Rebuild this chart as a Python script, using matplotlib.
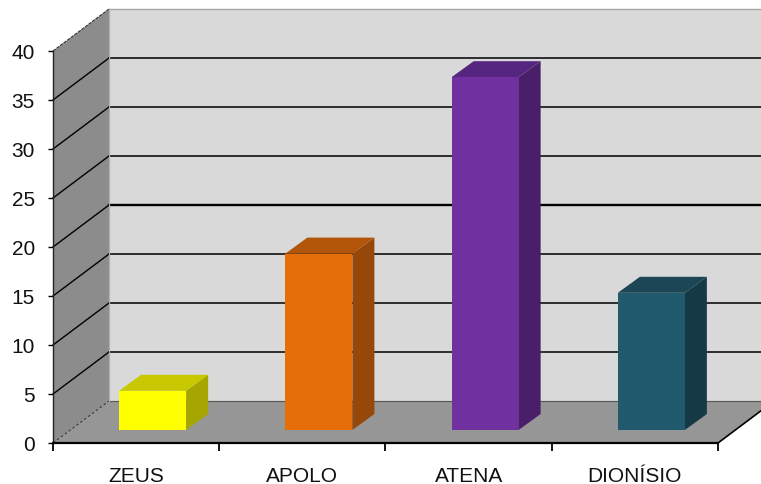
import matplotlib
matplotlib.use("Agg")
from matplotlib import pyplot as plt
from matplotlib.patches import Polygon

categories = ["ZEUS", "APOLO", "ATENA", "DIONÍSIO"]
values = [4, 18, 36, 14]
y_ticks = [0, 5, 10, 15, 20, 25, 30, 35, 40]

front_colors = ["#ffff00", "#e66e0a", "#7030a0", "#215a6c"]
top_colors = ["#c8c800", "#b25508", "#562580", "#1c4655"]
side_colors = ["#a6a600", "#96480a", "#4a1f6a", "#153a46"]

plt.rcParams["font.family"] = ["Liberation Sans", "DejaVu Sans"]

W, H = 761, 485
fig = plt.figure(figsize=(W / 100, H / 100), dpi=100)
ax = fig.add_axes([53 / W, (H - 444) / H, 665 / W, 392 / H])
ax.set_xlim(0, 4)
ax.set_ylim(0, 40)
ax.patch.set_alpha(0)

# depth of the fake 3d box, in data units
dx = 56 / 166.25
dy = 42 / 9.8
# bar placement inside the box
bar_w = 0.403
bar_dx = 16.5 / 166.25
bar_dy = 13 / 9.8
side_dx = 22 / 166.25
side_dy = 16 / 9.8


def poly(pts, color, z):
    ax.add_patch(Polygon(pts, closed=True, facecolor=color, edgecolor="none",
                         clip_on=False, zorder=z))


right = 4 + dx + 0.1
poly([(dx, dy), (right, dy), (right, 40 + dy), (dx, 40 + dy)], "#d9d9d9", 1)
poly([(0, 0), (dx, dy), (dx, 40 + dy), (0, 40)], "#8c8c8c", 1)
poly([(0, 0), (4, 0), (4 + dx, dy), (dx, dy)], "#969696", 1)

for v in y_ticks:
    lw = 1.7 if v == 20 else 1.1
    if v == 0:
        ax.plot([0, dx], [0, dy], color="#333333", lw=0.7, ls=(0, (3, 2)),
                clip_on=False, zorder=2)
        ax.plot([dx, right], [dy, dy], color="#555555", lw=0.8,
                clip_on=False, zorder=2)
    elif v == 40:
        ax.plot([0, dx], [v, v + dy], color="#333333", lw=0.8, ls=(0, (3, 1)),
                clip_on=False, zorder=2)
        ax.plot([dx, right], [v + dy, v + dy], color="#a6a6a6", lw=1,
                clip_on=False, zorder=2)
    else:
        ax.plot([0, dx], [v, v + dy], color="black", lw=1, clip_on=False, zorder=2)
        ax.plot([dx, right], [v + dy, v + dy], color="black", lw=lw,
                clip_on=False, zorder=2)
ax.plot([dx, dx], [dy, 40 + dy], color="#b0b0b0", lw=0.9, clip_on=False, zorder=2)
ax.plot([4, 4 + dx], [0, dy], color="black", lw=1.2, clip_on=False, zorder=2)

for i, v in enumerate(values):
    x0 = i + bar_dx + (1 - bar_w) / 2
    x1 = x0 + bar_w
    y0 = bar_dy
    y1 = y0 + v
    poly([(x1, y0), (x1 + side_dx, y0 + side_dy), (x1 + side_dx, y1 + side_dy), (x1, y1)],
         side_colors[i], 3)
    poly([(x0, y1), (x1, y1), (x1 + side_dx, y1 + side_dy), (x0 + side_dx, y1 + side_dy)],
         top_colors[i], 3)
    poly([(x0, y0), (x1, y0), (x1, y1), (x0, y1)], front_colors[i], 4)

for s in ["top", "right"]:
    ax.spines[s].set_visible(False)
ax.spines["bottom"].set_linewidth(1.6)
ax.spines["left"].set_linewidth(1)
ax.spines["left"].set_color("#222222")
ax.spines["bottom"].set_zorder(5)
ax.spines["left"].set_zorder(5)

ax.set_yticks(y_ticks)
ax.set_xticks([0, 1, 2, 3, 4])
ax.set_xticklabels([])
ax.set_xticks([0.5, 1.5, 2.5, 3.5], labels=categories, minor=True)
ax.tick_params(axis="x", which="major", length=6, width=1.3, color="black")
ax.tick_params(axis="x", which="minor", length=0, pad=16.5, labelsize=15, labelcolor="#111111")
ax.tick_params(axis="y", length=3.6, width=1, pad=9.5, labelsize=15, labelcolor="#111111")

fig.savefig("out.png", dpi=100, facecolor="white")
